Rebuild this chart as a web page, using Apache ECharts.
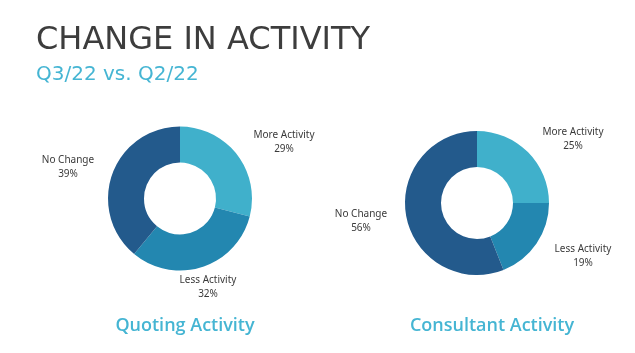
<!DOCTYPE html>
<html><head><meta charset="utf-8">
<script src="https://cdn.jsdelivr.net/npm/echarts@6/dist/echarts.min.js"></script>
<style>html,body{margin:0;padding:0;background:#fff}#c{width:635px;height:353px}</style>
</head><body><div id="c"></div>
<script>
const categories = ['More Activity', 'Less Activity', 'No Change'];
const quotingValues = [29, 32, 39];
const consultantValues = [25, 19, 56];
const chartTitles = ['Quoting Activity', 'Consultant Activity'];
const mainTitle = 'CHANGE IN ACTIVITY';
const subTitle = 'Q3/22 vs. Q2/22';
const colors = ['#40B0CB', '#2387B0', '#235A8C'];

const labelPos = [
  [[284, 142], [208, 287], [68, 167]],
  [[573, 139], [583, 256], [361, 221]]
];

function makeSeries(values, idx, center) {
  return {
    type: 'pie',
    center: center,
    radius: [36, 72],
    startAngle: 90,
    clockwise: true,
    silent: true,
    data: categories.map((c, i) => ({ name: c, value: values[i], itemStyle: { color: colors[i] } })),
    label: {
      show: true,
      formatter: p => p.name + '\n' + p.value + '%',
      color: '#3a3a3a',
      fontSize: 10,
      lineHeight: 14,
      fontFamily: 'Noto Sans',
      align: 'center',
      overflow: 'none',
      width: 200
    },
    labelLine: { show: false },
    labelLayout: p => ({ x: labelPos[idx][p.dataIndex][0], y: labelPos[idx][p.dataIndex][1], align: 'center', verticalAlign: 'middle', width: 200 })
  };
}

const chart = echarts.init(document.getElementById('c'), null, { renderer: 'canvas' });
chart.setOption({
  animation: false,
  title: [
    { text: mainTitle, left: 31, top: 20, textStyle: { fontFamily: 'DejaVu Sans', fontSize: 32, fontWeight: 'normal', color: '#3d3d3d' } },
    { text: subTitle, left: 31, top: 60, textStyle: { fontFamily: 'DejaVu Sans', fontSize: 20, fontWeight: 'normal', color: '#45B5D3' } },
    { text: chartTitles[0], left: 180, textAlign: 'center', top: 312, textStyle: { fontFamily: 'Open Sans', fontSize: 18, fontWeight: 600, color: '#45B5D3' } },
    { text: chartTitles[1], left: 487, textAlign: 'center', top: 312, textStyle: { fontFamily: 'Open Sans', fontSize: 18, fontWeight: 600, color: '#45B5D3' } }
  ],
  series: [
    makeSeries(quotingValues, 0, [180, 198.5]),
    makeSeries(consultantValues, 1, [477, 203])
  ]
});
</script></body></html>
